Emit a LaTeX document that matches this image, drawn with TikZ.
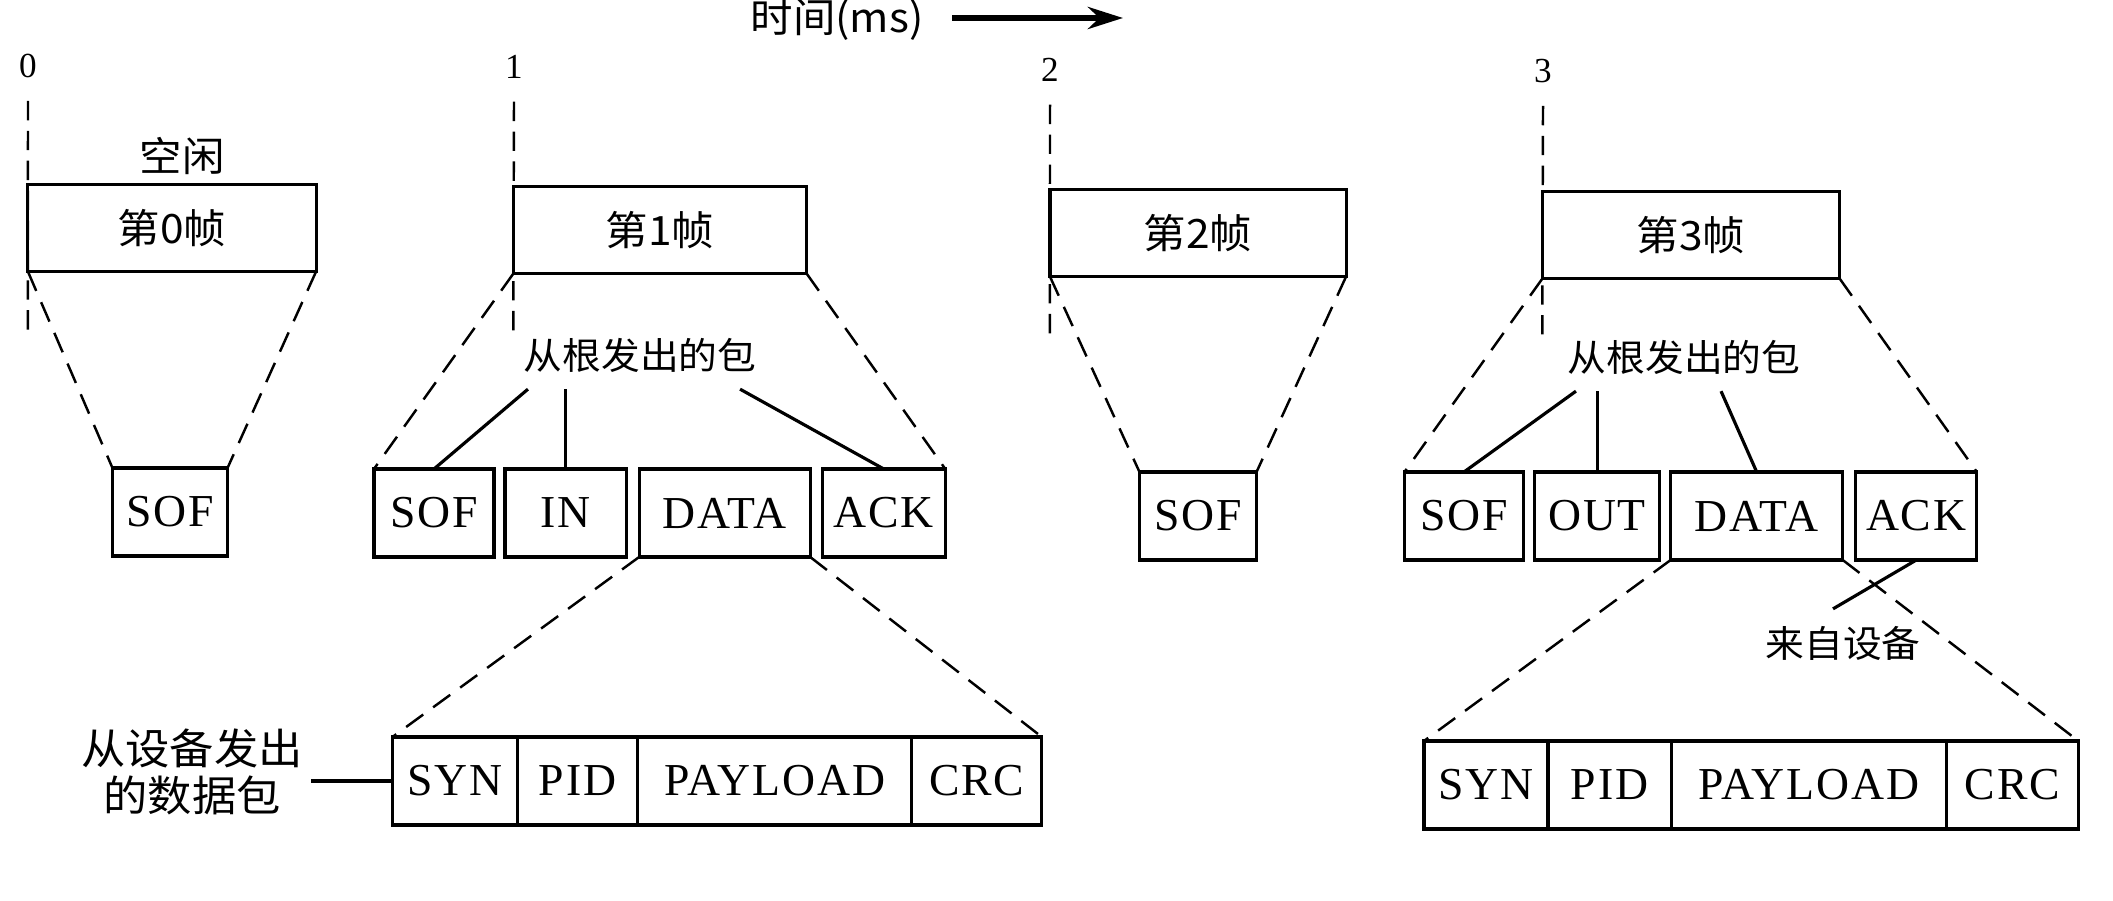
\documentclass[tikz,border=0pt]{standalone}
\usepackage{fontspec}
\setmainfont{Liberation Serif}
\newfontfamily\cjk[FakeStretch=1.05]{Noto Sans CJK SC}
\newfontfamily\pktfont[LetterSpace=4]{Liberation Serif}
\usetikzlibrary{positioning, arrows.meta}

\begin{document}
\begin{tikzpicture}[x=0.01cm, y=-0.01cm, line width=0.9pt,
    framebox/.style={draw, minimum height=0.87cm, inner sep=0pt, outer sep=0pt, font=\cjk\fontsize{11.5}{13.5}\selectfont},
    pkt/.style={draw, minimum height=0.88cm, inner sep=0pt, outer sep=0pt, font=\pktfont\fontsize{13}{15}\selectfont},
    zoomline/.style={line width=0.7pt, dash pattern=on 6pt off 3.5pt},
    markline/.style={line width=0.7pt, dash pattern=on 5.5pt off 3pt},
    cnlabel/.style={font=\cjk\fontsize{11.5}{13.5}\selectfont, inner sep=2pt},
    rootlabel/.style={font=\cjk\fontsize{10.5}{12.5}\selectfont, inner sep=2pt, outer ysep=0.1cm},
    numlabel/.style={font=\fontsize{10}{12}\selectfont, inner sep=1pt}]
  \useasboundingbox (0,0) rectangle (2113,901);

  % time axis
  \node[cnlabel] (tlabel) at (837,20) {时间(ms)};
  \coordinate (tstart) at (952,18);
  \coordinate (tend) at (1123,18);
  \draw[line width=1.8pt, -{Stealth[length=0.35cm, width=0.22cm]}] (tstart) -- (tend);

  \node[numlabel] (n0) at (28,66) {0};
  \node[numlabel] (n1) at (514,67) {1};
  \node[numlabel] (n2) at (1050,70) {2};
  \node[numlabel] (n3) at (1543,71) {3};

  % frames
  \node[framebox, minimum width=2.88cm] (f0) at (172,228) {第0帧};
  \node[framebox, minimum width=2.93cm] (f1) at (660,230) {第1帧};
  \node[framebox, minimum width=2.96cm] (f2) at (1198,233) {第2帧};
  \node[framebox, minimum width=2.97cm] (f3) at (1691,235) {第3帧};
  \node[cnlabel] (idle) at (182,156) {空闲};

  \draw[markline] ([yshift=-0.18cm]n0.south) -- (f0.south west) -- ++(0,62);
  \draw[markline] ([yshift=-0.18cm]n1.south) -- (f1.south west) -- ++(0,62);
  \draw[markline] ([yshift=-0.18cm]n2.south) -- (f2.south west) -- ++(0,62);
  \draw[markline] ([yshift=-0.18cm]n3.south) -- (f3.south west) -- ++(0,62);

  % packets
  \node[pkt, minimum width=1.15cm] (s0) at (170,512) {SOF};

  \node[pkt, minimum width=1.20cm] (sof1) at (434,513) {SOF};
  \node[pkt, minimum width=1.21cm, right=0.11cm of sof1] (in1) {IN};
  \node[pkt, minimum width=1.71cm, right=0.13cm of in1] (data1) {DATA};
  \node[pkt, minimum width=1.23cm, right=0.12cm of data1] (ack1) {ACK};

  \node[pkt, minimum width=1.17cm] (s2) at (1198,516) {SOF};

  \node[pkt, minimum width=1.19cm] (sof3) at (1464,516) {SOF};
  \node[pkt, minimum width=1.25cm, right=0.11cm of sof3] (out3) {OUT};
  \node[pkt, minimum width=1.72cm, right=0.11cm of out3] (data3) {DATA};
  \node[pkt, minimum width=1.21cm, right=0.13cm of data3] (ack3) {ACK};

  % data packets
  \node[pkt, minimum width=1.25cm] (syn1) at (455,781) {SYN};
  \node[pkt, minimum width=1.20cm, right=0pt of syn1] (pid1) {PID};
  \node[pkt, minimum width=2.74cm, right=0pt of pid1] (pay1) {PAYLOAD};
  \node[pkt, minimum width=1.30cm, right=0pt of pay1] (crc1) {CRC};

  \node[pkt, minimum width=1.24cm] (syn3) at (1486,785) {SYN};
  \node[pkt, minimum width=1.23cm, right=0pt of syn3] (pid3) {PID};
  \node[pkt, minimum width=2.75cm, right=0pt of pid3] (pay3) {PAYLOAD};
  \node[pkt, minimum width=1.32cm, right=0pt of pay3] (crc3) {CRC};

  % labels
  \node[rootlabel] (root1) at (640,355) {从根发出的包};
  \node[rootlabel] (root3) at (1684,357) {从根发出的包};
  \node[rootlabel] (dev) at (1843,643) {来自设备};
  \node[cnlabel, font=\cjk\fontsize{12}{13.6}\selectfont, align=center] (devpkt) at (192,772) {从设备发出\\的数据包};

  \draw ([xshift=-1.12cm]root1.south) -- (sof1.north);
  \draw (in1.north) -- (in1.north |- root1.south);
  \draw ([xshift=1.0cm]root1.south) -- (ack1.north);
  \draw ([xshift=-1.08cm]root3.south) -- (sof3.north);
  \draw (out3.north) -- (out3.north |- root3.south);
  \draw ([xshift=0.37cm]root3.south) -- (data3.north);
  \draw (ack3.south) -- ([xshift=-0.1cm]dev.north);
  \draw (devpkt.east |- syn1.west) -- (syn1.west);

  % zoom lines
  \draw[zoomline] (f0.south west) -- (s0.north west) (f0.south east) -- (s0.north east);
  \draw[zoomline] (f1.south west) -- (sof1.north west) (f1.south east) -- (ack1.north east);
  \draw[zoomline] (f2.south west) -- (s2.north west) (f2.south east) -- (s2.north east);
  \draw[zoomline] (f3.south west) -- (sof3.north west) (f3.south east) -- (ack3.north east);
  \draw[zoomline] (data1.south west) -- (syn1.north west) (data1.south east) -- (crc1.north east);
  \draw[zoomline] (data3.south west) -- (syn3.north west) (data3.south east) -- (crc3.north east);
\end{tikzpicture}
\end{document}
